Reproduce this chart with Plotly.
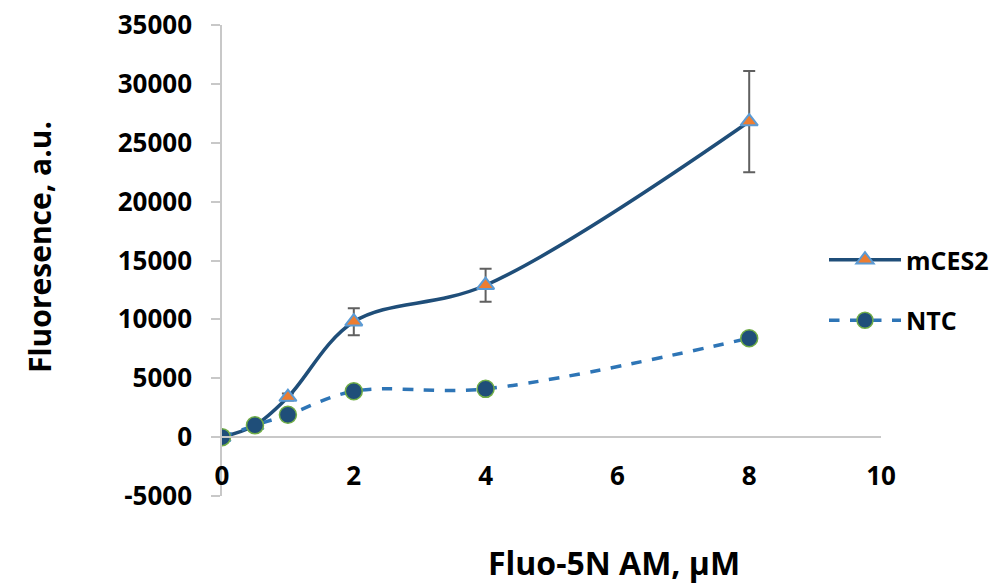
import plotly.graph_objects as go

# Fluo-5N AM concentration (µM)
conc = [0, 0.5, 1, 2, 4, 8]

# mCES2 fluorescence with error (a.u.)
mces2 = [0, 1000, 3400, 9800, 12900, 26800]
mces2_err = [100, 200, 300, 1150, 1400, 4300]

# NTC fluorescence (a.u.)
ntc = [0, 1000, 1900, 3900, 4100, 8400]

x_ticks = [0, 2, 4, 6, 8, 10]
y_ticks = [-5000, 0, 5000, 10000, 15000, 20000, 25000, 30000, 35000]
y_ticktext = [str(v) for v in y_ticks]

FONT = "Open Sans"
AXIS_GREY = "#c8c8c8"

W, H = 1002, 584
L, R, T, B = 222, 121, 25, 88
pw, ph = W - L - R, H - T - B

fig = go.Figure()

fig.add_trace(go.Scatter(
    x=conc, y=mces2, name="mCES2", mode="lines+markers",
    line=dict(color="#1f4e79", width=3.5, shape="spline", smoothing=1.0),
    marker=dict(symbol="triangle-up", size=15, color="#ed7d31",
                line=dict(color="#5b9bd5", width=2)),
    error_y=dict(type="data", array=mces2_err, visible=True,
                 color="#606060", thickness=2, width=6),
    legendgroup="a",
))

fig.add_trace(go.Scatter(
    x=conc, y=ntc, name="NTC", mode="lines+markers",
    line=dict(color="#2e75b6", width=3.5, dash="dash", shape="spline", smoothing=1.0),
    marker=dict(symbol="circle", size=17, color="#1f4e79",
                line=dict(color="#70ad47", width=1.5)),
    legendgroup="b",
))

fig.update_layout(
    width=W, height=H,
    margin=dict(l=L, r=R, t=T, b=B, autoexpand=False),
    paper_bgcolor="white", plot_bgcolor="white",
    font=dict(family=FONT, size=26, color="black", weight="bold"),
    showlegend=True,
    legend=dict(x=(824 - L) / pw, xanchor="left", y=(H - B - 290) / ph, yanchor="middle",
                tracegroupgap=25, itemwidth=72,
                font=dict(family=FONT, size=25, color="black", weight="bold"),
                bgcolor="rgba(0,0,0,0)"),
    xaxis=dict(
        range=[0, 10], tickvals=x_ticks, showgrid=False, zeroline=False,
        showline=True, linecolor=AXIS_GREY, linewidth=1.5,
        anchor="free", position=0.125, ticks="", ticklabelstandoff=16,
        tickfont=dict(family=FONT, size=26, color="black", weight="bold"),
    ),
    yaxis=dict(
        range=[-5000, 35000], tickvals=y_ticks, ticktext=y_ticktext,
        showgrid=False, zeroline=False,
        showline=True, linecolor=AXIS_GREY, linewidth=1.5,
        ticks="outside", ticklen=9, tickcolor=AXIS_GREY, tickwidth=1.5,
        ticklabelstandoff=14,
        tickfont=dict(family=FONT, size=26, color="black", weight="bold"),
    ),
    annotations=[
        dict(text="Fluo-5N AM, µM", xref="paper", yref="paper",
             x=(614 - L) / pw, y=(H - B - 562) / ph, xanchor="center", yanchor="middle",
             showarrow=False, font=dict(family=FONT, size=32, weight="bold")),
        dict(text="Fluoresence, a.u.", xref="paper", yref="paper",
             x=(39 - L) / pw, y=(H - B - 247) / ph, xanchor="center", yanchor="middle",
             textangle=-90, showarrow=False,
             font=dict(family=FONT, size=30, weight="bold")),
    ],
)

fig.write_html("out.html")
